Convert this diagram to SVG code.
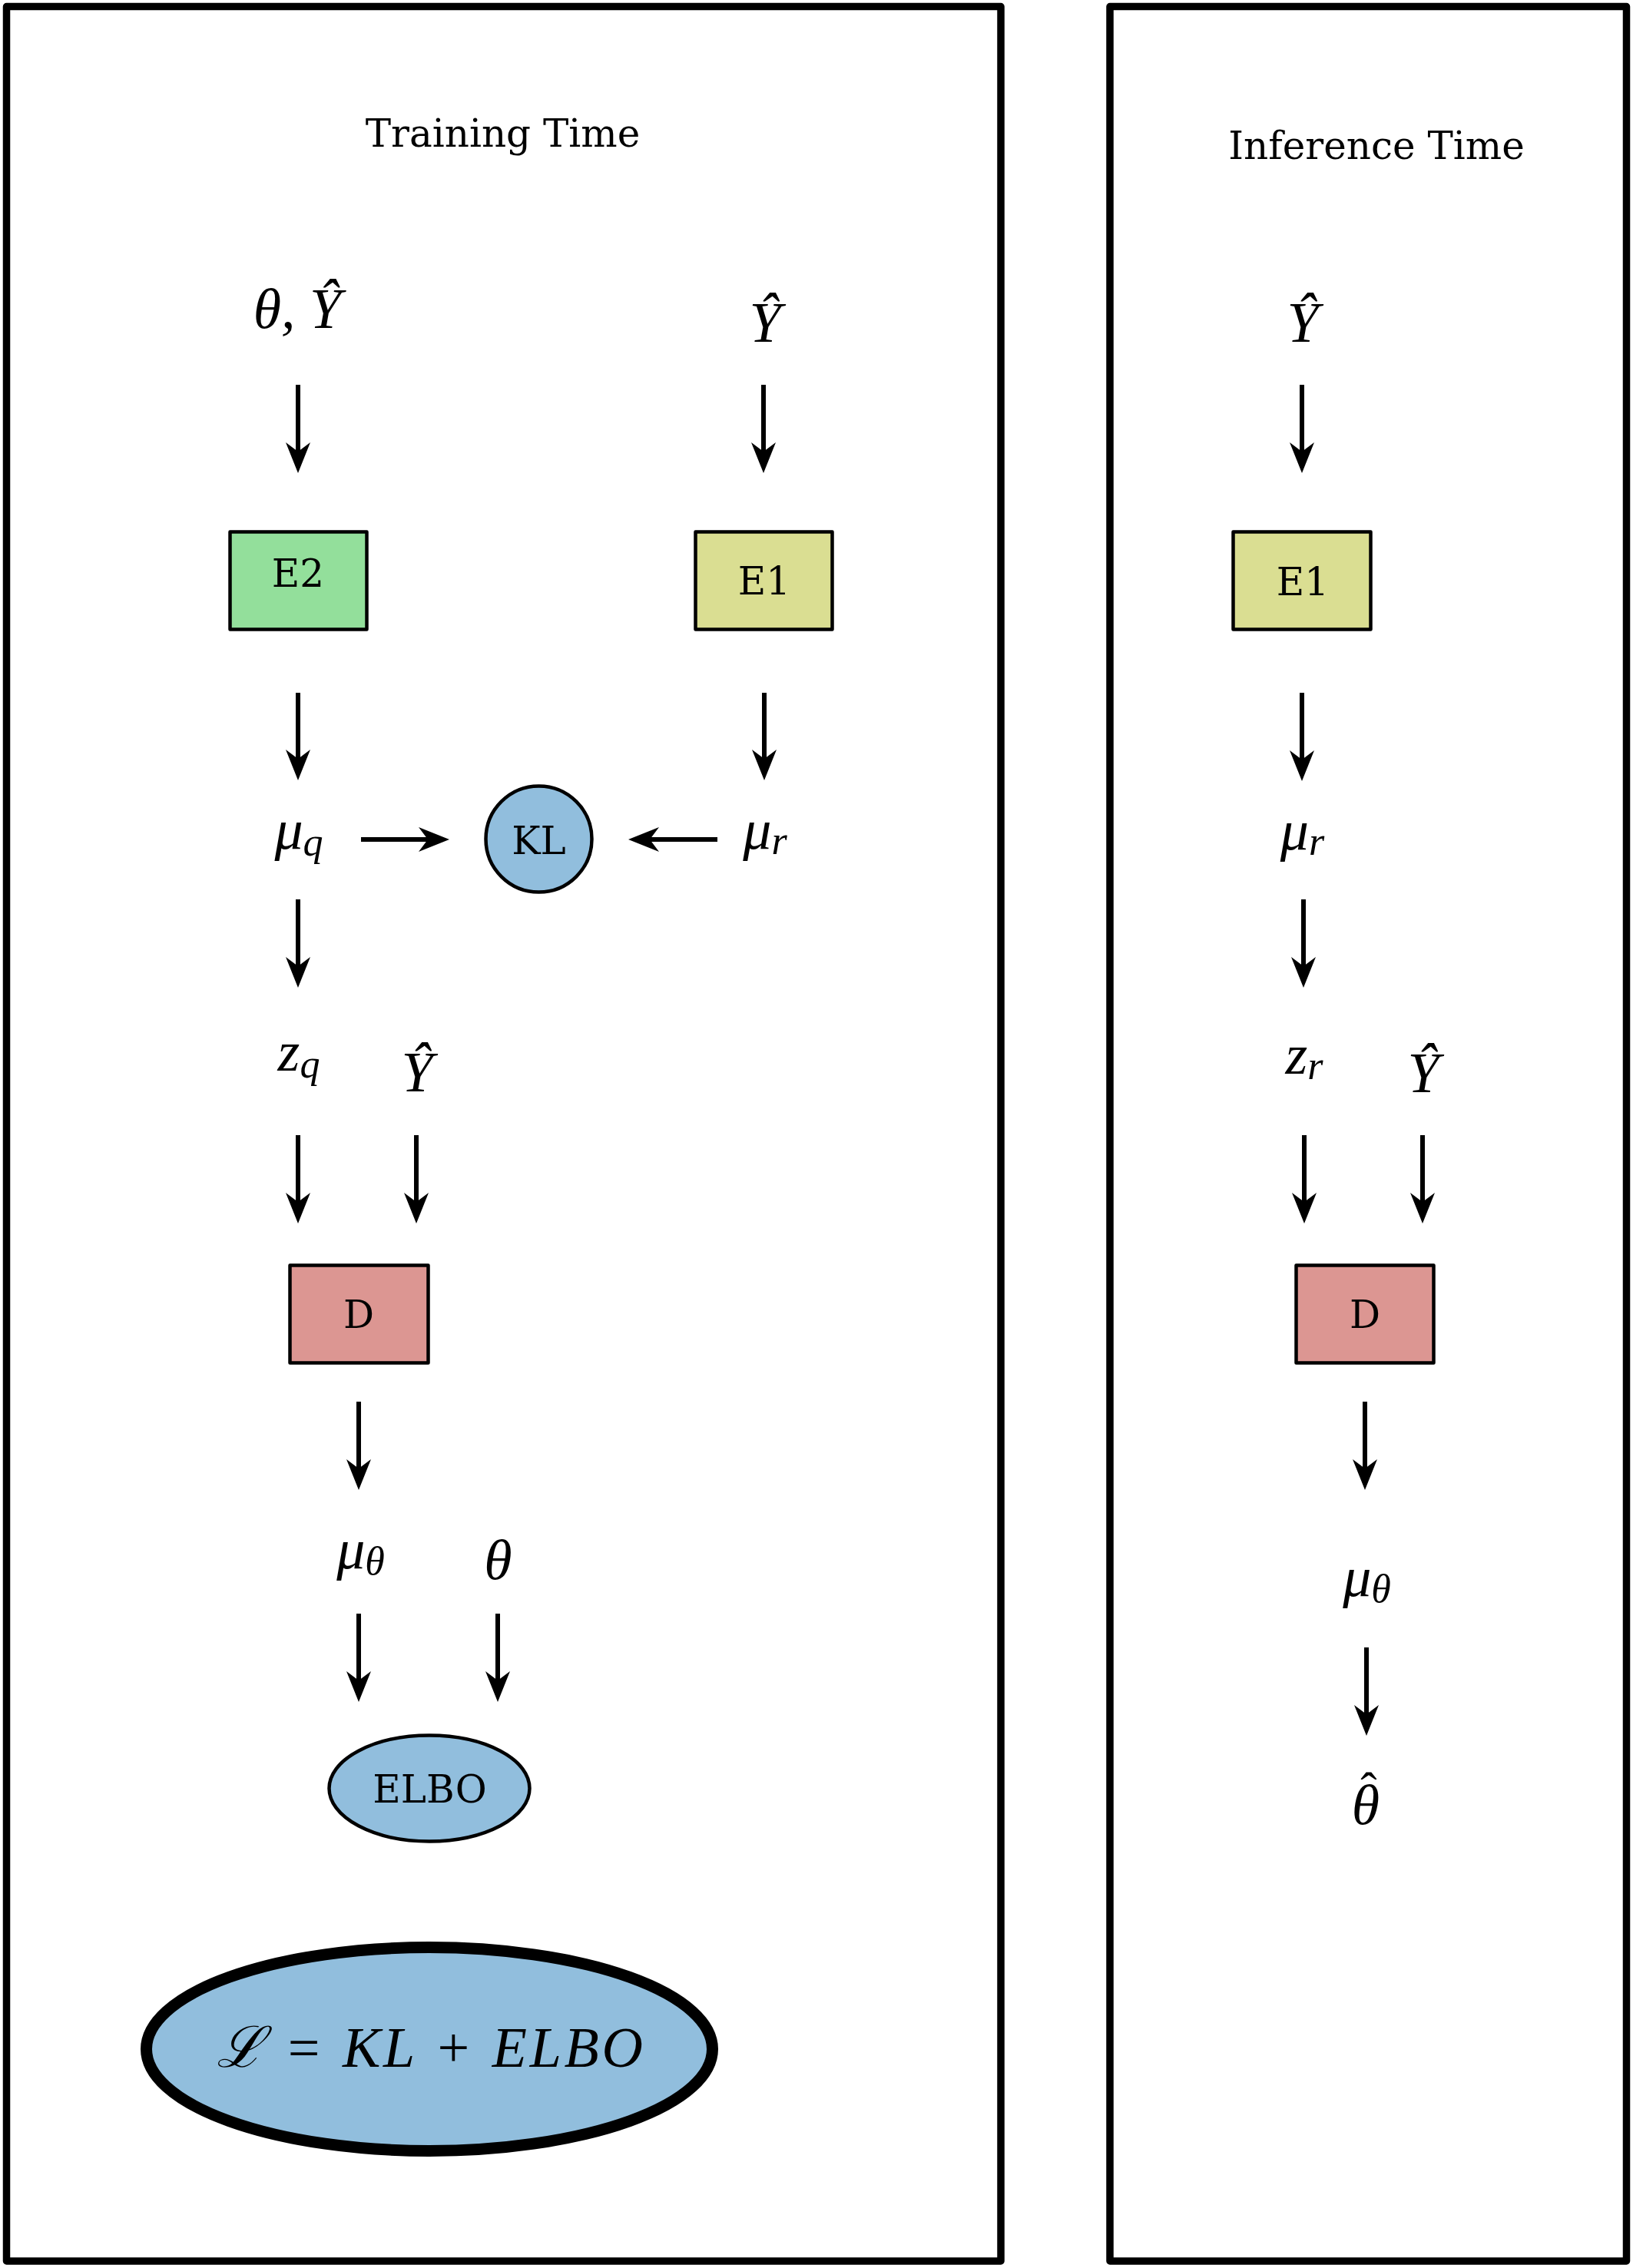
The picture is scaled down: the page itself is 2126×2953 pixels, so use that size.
<svg xmlns="http://www.w3.org/2000/svg" width="2126" height="2953" viewBox="0 0 2126 2953">
<style>
.panel{fill:#ffffff;stroke:#000;stroke-width:9.5;stroke-linejoin:round}
.box{stroke:#000;stroke-width:4.5;stroke-linejoin:round}
.e2{fill:#93DF9B}
.e1{fill:#DADE92}
.d{fill:#DC9692}
.blue{fill:#91BEDD}
.lbl{font-family:"DejaVu Serif",serif;font-size:50px;text-anchor:middle;fill:#000}
.m{font-family:"Liberation Serif","DejaVu Serif",serif;font-style:italic;font-size:74px;text-anchor:middle;fill:#000}
.sub{font-size:52px}
.hat{font-style:normal;font-size:64px}
.arr{stroke:#000;stroke-width:6;fill:none;marker-end:url(#ah)}
</style>
<defs>
<marker id="ah" viewBox="-16 -18 46 36" refX="0" refY="0" markerWidth="46" markerHeight="36" markerUnits="userSpaceOnUse" orient="auto" overflow="visible">
<path d="M27,0 L-13,-16 L-1,0 L-13,16 Z" fill="#000"/>
</marker>
</defs>
<rect width="2126" height="2953" fill="#ffffff"/>
<g id="panel-training"><rect class="panel" x="8.5" y="8.5" width="1294.5" height="2935.5"/><text class="lbl" x="654.5" y="191">Training Time</text></g>
<g id="panel-inference"><rect class="panel" x="1445" y="8.5" width="672.5" height="2935.5"/><text class="lbl" x="1792" y="207">Inference Time</text></g>

<g id="connectors">
<line class="arr" x1="388" y1="501" x2="388" y2="589"/>
<line class="arr" x1="994" y1="501" x2="994" y2="589"/>
<line class="arr" x1="388" y1="902" x2="388" y2="989"/>
<line class="arr" x1="995" y1="902" x2="995" y2="989"/>
<line class="arr" x1="470" y1="1093" x2="558" y2="1093"/>
<line class="arr" x1="934" y1="1093" x2="845" y2="1093"/>
<line class="arr" x1="388" y1="1171" x2="388" y2="1259"/>
<line class="arr" x1="388" y1="1478" x2="388" y2="1566"/>
<line class="arr" x1="542" y1="1478" x2="542" y2="1566"/>
<line class="arr" x1="467" y1="1825" x2="467" y2="1913"/>
<line class="arr" x1="467" y1="2101" x2="467" y2="2189"/>
<line class="arr" x1="648" y1="2101" x2="648" y2="2189"/>
<line class="arr" x1="1695" y1="501" x2="1695" y2="589"/>
<line class="arr" x1="1695" y1="902" x2="1695" y2="990"/>
<line class="arr" x1="1697" y1="1171" x2="1697" y2="1259"/>
<line class="arr" x1="1698" y1="1478" x2="1698" y2="1566"/>
<line class="arr" x1="1852" y1="1478" x2="1852" y2="1566"/>
<line class="arr" x1="1777" y1="1825" x2="1777" y2="1913"/>
<line class="arr" x1="1779" y1="2145" x2="1779" y2="2233"/>
</g>

<g id="t-theta-yhat"><text class="m" x="387" y="427">θ, Ŷ</text></g>
<g id="t-yhat-1"><text class="m" x="996" y="445">Ŷ</text></g>
<g id="E2"><rect class="box e2" x="299.5" y="692.5" width="178" height="127"/><text class="lbl" x="388" y="764">E2</text></g>
<g id="E1"><rect class="box e1" x="905.5" y="692.5" width="178" height="127"/><text class="lbl" x="995" y="774">E1</text></g>
<g id="t-mu-q"><text class="m" x="389" y="1105">μ<tspan class="sub" dy="9">q</tspan></text></g>
<g id="KL"><circle class="box blue" cx="701.5" cy="1092.5" r="69"/><text class="lbl" x="701.5" y="1112">KL</text></g>
<g id="t-mu-r"><text class="m" x="996" y="1105">μ<tspan class="sub" dy="7">r</tspan></text></g>
<g id="t-z-q"><text class="m" x="389" y="1394">z<tspan class="sub" dy="9">q</tspan></text></g>
<g id="t-yhat-2"><text class="m" x="543" y="1421">Ŷ</text></g>
<g id="D"><rect class="box d" x="377.5" y="1647.5" width="180" height="127"/><text class="lbl" x="467" y="1729">D</text></g>
<g id="t-mu-theta"><text class="m" x="469.5" y="2042">μ<tspan class="sub" dy="8">θ</tspan></text></g>
<g id="t-theta"><text class="m" x="648.5" y="2056">θ</text></g>
<g id="ELBO"><ellipse class="box blue" cx="559" cy="2328.5" rx="130.5" ry="69"/><text class="lbl" x="559.5" y="2347">ELBO</text></g>
<g id="loss"><ellipse class="blue" cx="559" cy="2668" rx="368.5" ry="132.5" stroke="#000" stroke-width="15"/><text class="m" x="559.5" y="2691" textLength="555" lengthAdjust="spacing">ℒ = KL + ELBO</text></g>

<g id="t-yhat-3"><text class="m" x="1696" y="445">Ŷ</text></g>
<g id="E1-inf"><rect class="box e1" x="1605.5" y="692.5" width="179" height="127"/><text class="lbl" x="1696" y="775">E1</text></g>
<g id="t-mu-r-inf"><text class="m" x="1695.5" y="1106">μ<tspan class="sub" dy="7">r</tspan></text></g>
<g id="t-z-r"><text class="m" x="1698" y="1398">z<tspan class="sub" dy="7">r</tspan></text></g>
<g id="t-yhat-4"><text class="m" x="1853" y="1422">Ŷ</text></g>
<g id="D-inf"><rect class="box d" x="1687.5" y="1647.5" width="179" height="127"/><text class="lbl" x="1777" y="1729">D</text></g>
<g id="t-mu-theta-inf"><text class="m" x="1779.5" y="2078">μ<tspan class="sub" dy="8">θ</tspan></text></g>
<g id="t-theta-hat"><text class="m" x="1778" y="2375">θ<tspan class="hat" x="1782" y="2352">ˆ</tspan></text></g>
</svg>
